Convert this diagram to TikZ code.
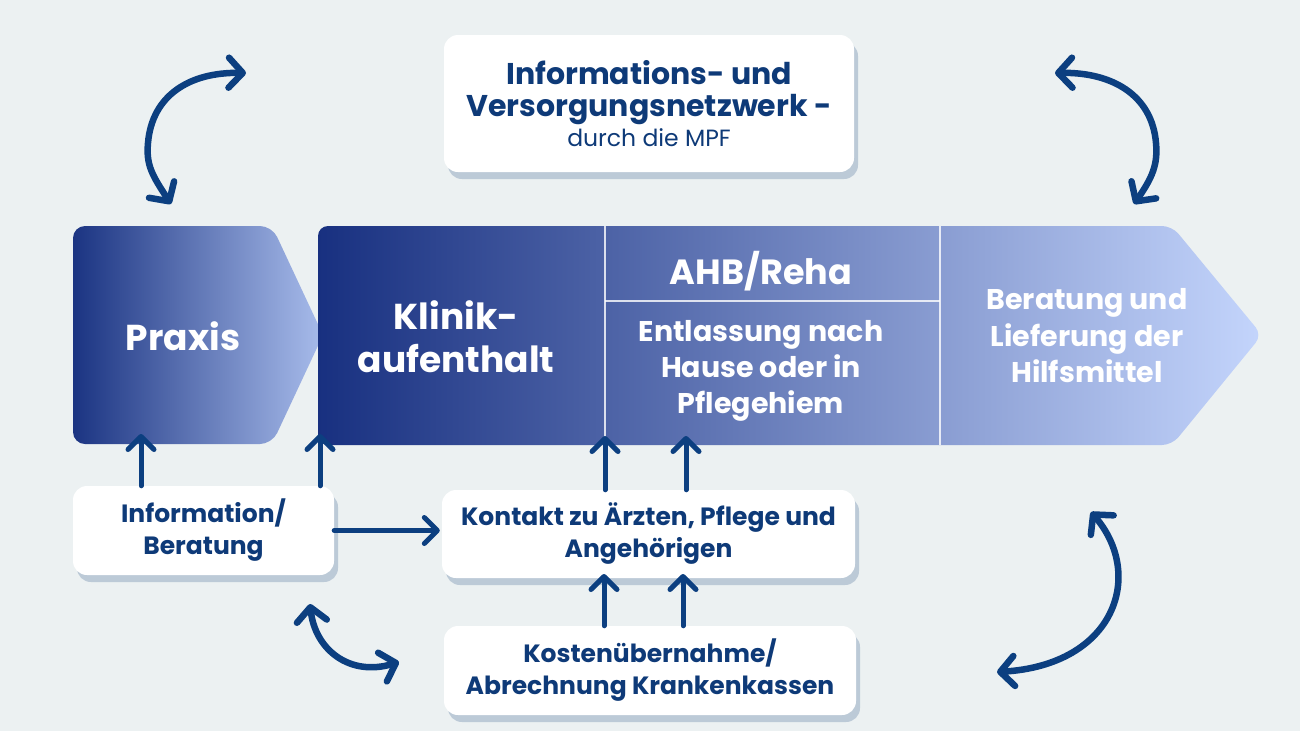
\documentclass[tikz,border=0pt]{standalone}
\usepackage{fontspec}
\setmainfont{Poppins}
\usetikzlibrary{arrows.meta,shadows}
\definecolor{bgc}{HTML}{ECF1F2}
\definecolor{navy}{HTML}{0E3A78}
\definecolor{arrc}{HTML}{0C3F80}
\definecolor{shadowc}{HTML}{BCCAD7}
\definecolor{pL}{HTML}{1B3482}
\definecolor{pR}{HTML}{A8BCEB}
\definecolor{mL}{HTML}{183080}
\definecolor{mR}{HTML}{C4D5FC}
\tikzset{
  wbox/.style={fill=white, rounded corners=14pt, text=navy, align=center, inner sep=0pt,
    font=\bfseries\fontsize{25}{32}\selectfont,
    drop shadow={shadow xshift=4pt, shadow yshift=-7pt, fill=shadowc, opacity=1}},
  tip/.tip={Straight Barb[length=13pt,width=26pt,line cap=round,line join=round]},
  bigtip/.tip={Straight Barb[length=14pt,width=30pt,line cap=round,line join=round]},
  arr/.style={draw=arrc, line width=5pt, line cap=round, line join=round, -tip},
  darr/.style={draw=arrc, line width=6.5pt, line cap=round, line join=round, bigtip-bigtip},
  wtext/.style={text=white, align=center, inner sep=0pt}
}
\begin{document}
\begin{tikzpicture}[x=1pt,y=-1pt]
\fill[bgc] (0,0) rectangle (1300,731);
\useasboundingbox (0,0) rectangle (1300,731);

% Praxis pentagon
\shade[left color=pL, right color=pR, rounded corners=12pt]
  (73,226) -- (272,226) -- (323,335) -- (272,444) -- (73,444) -- cycle;
% main arrow
\shade[left color=mL, right color=mR, rounded corners=10pt]
  (318,226) -- (1172,226) -- (1262,335) -- (1172,445) -- (318,445) -- cycle;
\draw[white, line width=1.2pt, opacity=0.8] (605,226) -- (605,445);
\draw[white, line width=1.2pt, opacity=0.8] (940,226) -- (940,445);
\draw[white, line width=1.2pt, opacity=0.8] (605,301) -- (940,301);

\node[wtext, font=\bfseries\fontsize{36}{43}\selectfont] (praxis) at (183,336) {Praxis};
\node[wtext, font=\bfseries\fontsize{36}{43}\selectfont] (klinik) at (456,337) {Klinik-\\aufenthalt};
\node[wtext, font=\bfseries\fontsize{35}{36}\selectfont] (ahb) at (761,271) {AHB/Reha};
\node[wtext, font=\bfseries\fontsize{28.5}{36}\selectfont] (entl) at (761,371) {Entlassung nach\\Hause oder in\\Pflegehiem};
\node[wtext, font=\bfseries\fontsize{28.5}{36.5}\selectfont] (hilf) at (1087,336) {Beratung und\\Lieferung der\\Hilfsmittel};

% target points on the process bar
\coordinate (praxB) at (141,434);
\coordinate (klinB) at (320,434);
\coordinate (entlA) at (605,436);
\coordinate (entlB) at (686,436);

% white boxes
\node[wbox, minimum width=410pt, minimum height=137pt] (net) at (649,103.5)
  {\fontsize{30}{38}\selectfont Informations- und\\\fontsize{30}{30}\selectfont Versorgungsnetzwerk -\\[-2pt]\mdseries\fontsize{23.5}{26}\selectfont durch die MPF};
\node[wbox, minimum width=261pt, minimum height=89pt] (info) at (203.5,530.5) {Information/\\Beratung};
\node[wbox, minimum width=413pt, minimum height=88pt] (kontakt) at (648.5,534) {Kontakt zu Ärzten, Pflege und\\Angehörigen};
\node[wbox, minimum width=412pt, minimum height=89pt] (kosten) at (650,670.5) {Kostenübernahme/\\Abrechnung Krankenkassen};

% straight connectors
\draw[arr] (info.north -| praxB) -- (praxB);
\draw[arr] (info.north -| klinB) -- (klinB);
\draw[arr] (info.east) -- ([xshift=-2pt]kontakt.west |- info.east);
\draw[arr] (kontakt.north -| entlA) -- (entlA);
\draw[arr] (kontakt.north -| entlB) -- (entlB);
\coordinate (kA) at (604,574);
\coordinate (kB) at (683,574);
\draw[arr] (kosten.north -| kA) -- (kA);
\draw[arr] (kosten.north -| kB) -- (kB);

% curved double arrows
\coordinate (tl1) at (171,204); \coordinate (tl2) at (246,73);
\draw[darr] (tl1) .. controls (152,175) and (146,165) .. (148,143) .. controls (152,95) and (190,72) .. (tl2);
\coordinate (tr1) at (1134,204); \coordinate (tr2) at (1055,73);
\draw[darr] (tr1) .. controls (1152,178) and (1158,165) .. (1156,143) .. controls (1152,95) and (1112,72) .. (tr2);
\coordinate (bl1) at (310,604); \coordinate (bl2) at (399,662);
\draw[darr] (bl1) .. controls (315,650) and (350,677) .. (bl2);
\coordinate (br1) at (1091,512); \coordinate (br2) at (997,672);
\draw[darr] (br1) .. controls (1145,575) and (1115,665) .. (br2);
\end{tikzpicture}
\end{document}
